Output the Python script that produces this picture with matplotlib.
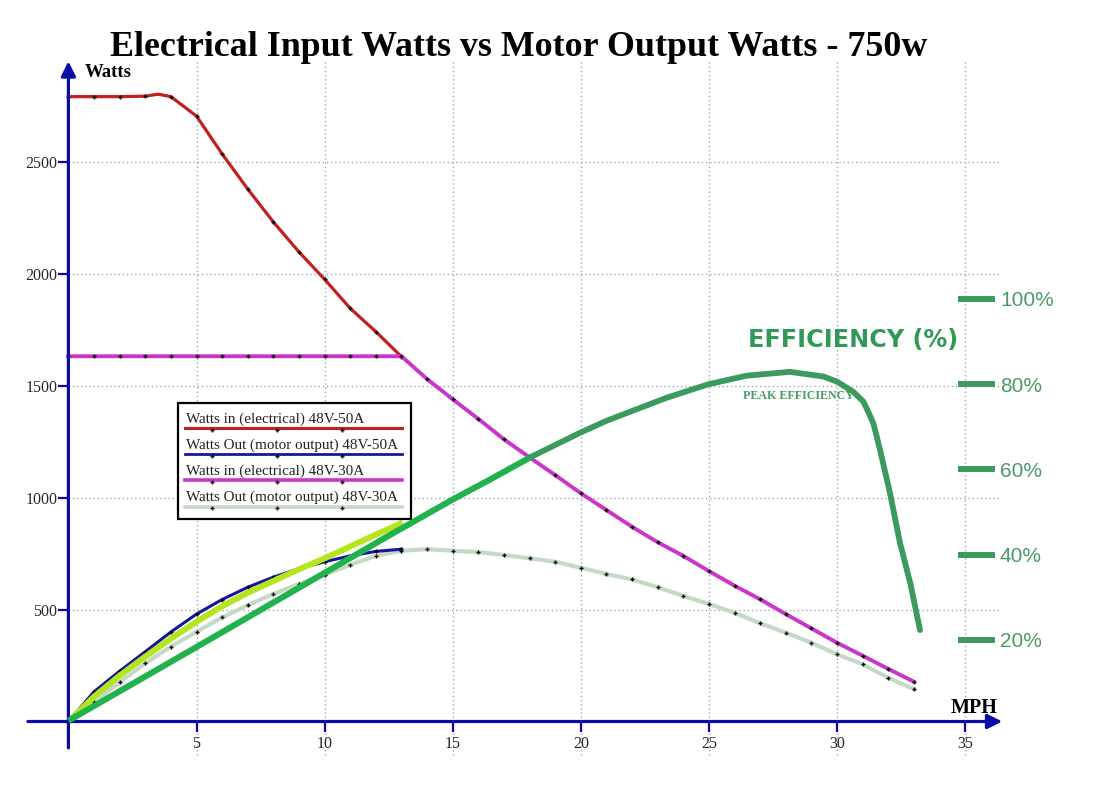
import matplotlib.pyplot as plt

# values
mph = [0, 1, 2, 3, 4, 5, 6, 7, 8, 9, 10, 11, 12, 13, 14, 15, 16, 17, 18, 19, 20,
       21, 22, 23, 24, 25, 26, 27, 28, 29, 30, 31, 32, 33]

red_mph = [0, 1, 2, 3, 3.5, 4, 5, 6, 7, 8, 9, 10, 11, 12, 13]
red_watts = [2792, 2792, 2792, 2794, 2803, 2792, 2705, 2536, 2379, 2232, 2098, 1976,
             1846, 1742, 1630]

blue_mph = [0, 1, 2, 3, 4, 5, 6, 7, 8, 9, 10, 11, 12, 13]
blue_watts = [0, 133, 225, 312, 400, 480, 545, 600, 645, 683, 714, 740, 760, 770]

magenta_watts = [1632, 1632, 1632, 1632, 1632, 1632, 1632, 1632, 1632, 1632, 1632,
                 1632, 1632, 1632, 1530, 1440, 1352, 1261, 1180, 1101, 1020, 945,
                 870, 801, 740, 672, 607, 546, 480, 416, 352, 294, 235, 178]

gray_watts = [0, 88, 175, 260, 335, 401, 465, 520, 570, 615, 655, 700, 740, 763, 770,
              763, 757, 744, 729, 714, 687, 659, 635, 600, 561, 525, 486, 439, 397,
              352, 300, 256, 195, 145]

lime_mph = [0, 1, 2, 3, 4, 5, 6, 7, 8, 9, 10, 11, 12, 13.05]
lime_watts = [0, 111, 205, 290, 370, 446, 515, 575, 628, 680, 729, 782, 835, 889]

eff_mph = [0, 5, 10, 12.55, 15.02, 16.45, 18.08, 19.97, 21.0, 22.3, 23.3, 24.26, 25.0,
           26.47, 28.16, 29.47, 30.0, 30.64, 31.03, 31.22, 31.42, 31.68, 32.07, 32.46,
           32.86, 33.24]
eff_pct = [1, 18.3, 35.7, 44.6, 53.0, 57.6, 63.0, 68.6, 71.4, 74.4, 76.7, 78.6, 80.0,
           82.0, 82.9, 81.8, 80.6, 78.2, 75.9, 73.5, 70.8, 64.6, 54.4, 42.7,
           33.3, 22.3]

x_ticks = [5, 10, 15, 20, 25, 30, 35]
y_ticks = [500, 1000, 1500, 2000, 2500]
eff_ticks = [20, 40, 60, 80, 100]

legend_labels = ['Watts in (electrical) 48V-50A',
                 'Watts Out (motor output) 48V-50A',
                 'Watts in (electrical) 48V-30A',
                 'Watts Out (motor output) 48V-30A']

AXIS = '#0b0ba8'
GRID = '#a4a4bc'
RED = '#c21f1f'
BLUE = '#16169e'
MAGENTA = '#c936c9'
GRAY = '#c6d9c6'
LIME = '#b5e61d'
GREEN1 = '#22b14c'
GREEN2 = '#3d9a5f'
GREEN_TXT = '#4a9a69'

W, H = 1100, 798


def fx(px):
    return px / W


def fy(py):
    return 1 - py / H


fig = plt.figure(figsize=(W / 100, H / 100), dpi=100)
ax = fig.add_axes([0, 0, 1, 1])
ax.set_xlim(-68.4 / 25.62, (W - 68.4) / 25.62)
ax.set_ylim((721.5 - H) / 0.2238, 721.5 / 0.2238)
ax.patch.set_visible(False)

# grid (dotted, limited extent like the original)
ax.vlines(x_ticks, -150, 2948, colors=GRID, linestyles=(0, (1, 2)), lw=1, zorder=0.5)
ax.hlines(y_ticks, 0, 36.4, colors=GRID, linestyles=(0, (1, 2)), lw=1, zorder=0.5)

# axes with arrows
arrow = dict(arrowstyle='-|>', color=AXIS, lw=2.3, mutation_scale=22,
             shrinkA=0, shrinkB=0)
ax.annotate('', xy=(36.45, 0), xytext=(-1.58, 0), arrowprops=arrow, zorder=6)
ax.annotate('', xy=(0, 2950), xytext=(0, -118), arrowprops=arrow, zorder=6)

for s in ax.spines.values():
    s.set_visible(False)
ax.spines['left'].set_position(('data', 0))
ax.spines['bottom'].set_position(('data', 0))
ax.set_xticks(x_ticks)
ax.set_yticks(y_ticks)
ax.tick_params(direction='out', length=7.5, width=1.6, color=AXIS,
               labelsize=11.5, labelcolor='#262626')
ax.tick_params(axis='x', pad=3.2)
ax.tick_params(axis='y', pad=0.5)
for lab in ax.get_xticklabels() + ax.get_yticklabels():
    lab.set_fontfamily('Liberation Serif')

mk = dict(marker='+', markersize=3.5, markeredgewidth=1.0, markeredgecolor='k')

red_marks = [i for i, v in enumerate(red_mph) if float(v).is_integer()]
ax.plot(mph, gray_watts, color=GRAY, lw=3, zorder=2, **mk)
ax.plot(blue_mph, blue_watts, color=BLUE, lw=2.2, zorder=2.5, **mk)
ax.plot(red_mph, red_watts, color=RED, lw=2.3, zorder=2, markevery=red_marks, **mk)
ax.plot(mph, magenta_watts, color=MAGENTA, lw=2.8, zorder=3, **mk)
ax.plot(lime_mph, lime_watts, color=LIME, lw=4.3, zorder=3.5, solid_capstyle='butt')

# efficiency on its own scale
ax2 = ax.twinx()
ax2.set_ylim(-17.14, 170.19)
ax2.patch.set_visible(False)
for s in ax2.spines.values():
    s.set_visible(False)
ax2.spines['right'].set_position(('data', 36.17))
ax2.set_yticks(eff_ticks)
ax2.set_yticklabels([f'{v}%' for v in eff_ticks])
ax2.tick_params(axis='y', direction='in', length=26.5, width=4.3, color=GREEN2,
                labelsize=15, labelcolor=GREEN_TXT, pad=3.5)
for lab in ax2.get_yticklabels():
    lab.set_fontfamily('Liberation Sans')
k = eff_mph.index(18.08)
ax2.plot(eff_mph[:k + 1], eff_pct[:k + 1], color=GREEN1, lw=4.4, zorder=4,
         solid_capstyle='butt')
ax2.plot(eff_mph[k:], eff_pct[k:], color=GREEN2, lw=4.2, zorder=4,
         solid_capstyle='round', solid_joinstyle='round')

# texts
ax.text(fx(519), fy(55.7), 'Electrical Input Watts vs Motor Output Watts - 750w',
        transform=ax.transAxes, ha='center', va='baseline', fontsize=25.8,
        fontweight='bold', family='Liberation Serif')
ax.text(fx(85), fy(77.3), 'Watts', transform=ax.transAxes, ha='left', va='baseline',
        fontsize=13.5, fontweight='bold', family='Liberation Serif')
ax.text(fx(951), fy(712.6), 'MPH', transform=ax.transAxes, ha='left', va='baseline',
        fontsize=14.5, fontweight='bold', family='Liberation Serif')
ax.text(fx(748), fy(346.7), 'EFFICIENCY (%)', transform=ax.transAxes, ha='left',
        va='baseline', fontsize=17.2, fontweight='bold', family='DejaVu Sans',
        color='#2e9a55')
ax.text(fx(742.7), fy(399), 'PEAK EFFICIENCY', transform=ax.transAxes, ha='left',
        va='baseline', fontsize=8.6, fontweight='bold', family='Liberation Serif',
        color=GREEN_TXT)

# legend drawn by hand: text above each line sample
box = plt.Rectangle((fx(178.3), fy(519)), fx(410.7) - fx(178.3), fy(403.3) - fy(519),
                    transform=ax.transAxes, facecolor='white', edgecolor='black',
                    lw=1.6, zorder=7)
ax.add_patch(box)
leg_colors = [RED, BLUE, MAGENTA, GRAY]
leg_widths = [2.2, 2.0, 2.6, 2.6]
for i, (lab, c, lw) in enumerate(zip(legend_labels, leg_colors, leg_widths)):
    ly = 428.3 + i * 26.1
    ax.text(fx(186), fy(ly - 5.5), lab, transform=ax.transAxes, ha='left',
            va='baseline', fontsize=10.9, family='Liberation Serif', color='#222222',
            zorder=8)
    ax.plot([fx(185), fx(401.7)], [fy(ly), fy(ly)], transform=ax.transAxes, color=c,
            lw=lw, zorder=8)
    ax.plot([fx(211.7), fx(276.7), fx(341.7)], [fy(ly + 1.5)] * 3,
            transform=ax.transAxes, ls='none', marker='+', ms=3.5, mew=1,
            color='k', zorder=8)

fig.savefig('out.png', dpi=100)
